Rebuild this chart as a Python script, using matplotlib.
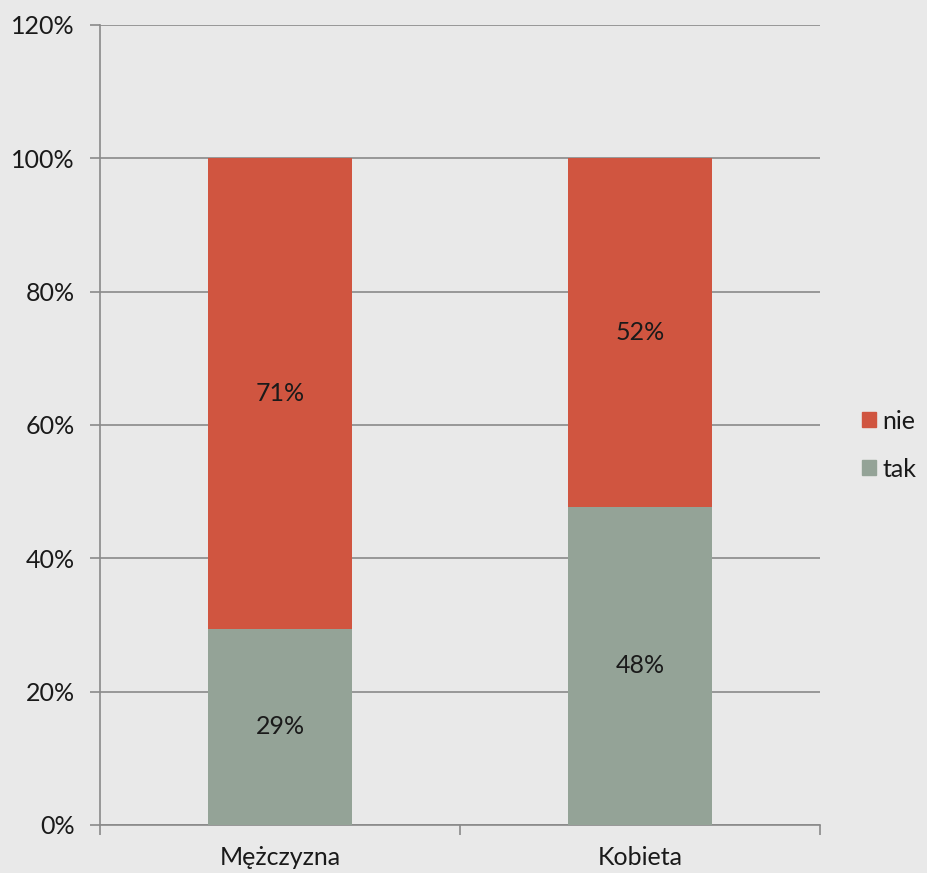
import numpy as np
import matplotlib.pyplot as plt
from matplotlib.patches import Patch

categories = ['Mężczyzna', 'Kobieta']
tak = [29.4, 47.7]
nie = [70.6, 52.3]
tak_labels = ['29%', '48%']
nie_labels = ['71%', '52%']

plt.rcParams['font.family'] = ['Lato', 'DejaVu Sans']

bg = '#e9e9e9'
red = '#d05540'
green = '#94a397'
fs = 18

fig = plt.figure(figsize=(9.28, 8.73), dpi=100, facecolor=bg)
ax = fig.add_axes([0.1078, 0.055, 0.7758, 0.9164], facecolor=bg)

x = np.arange(len(categories))
w = 0.4
b1 = ax.bar(x, tak, w, color=green, label='tak', zorder=3)
b2 = ax.bar(x, nie, w, bottom=tak, color=red, label='nie', zorder=3)

for rect, lab in zip(b1, tak_labels):
    ax.text(rect.get_x() + rect.get_width() / 2, rect.get_y() + rect.get_height() / 2,
            lab, ha='center', va='center', fontsize=fs, color='#1a1a1a', zorder=4)
for rect, lab in zip(b2, nie_labels):
    ax.text(rect.get_x() + rect.get_width() / 2, rect.get_y() + rect.get_height() / 2,
            lab, ha='center', va='center', fontsize=fs, color='#1a1a1a', zorder=4)

ax.set_xlim(-0.5, 1.5)
ax.set_ylim(0, 120)
ax.set_yticks(np.arange(0, 121, 20))
ax.set_yticklabels(['{}%'.format(v) for v in range(0, 121, 20)], fontsize=fs, color='#1a1a1a')
ax.set_xticks(x)
ax.set_xticklabels(categories, fontsize=fs, color='#1a1a1a')
ax.set_xticks([-0.5, 0.5, 1.5], minor=True)
ax.tick_params(axis='x', which='major', length=0, pad=15)
ax.tick_params(axis='x', which='minor', length=7, color='#8a8a8a', width=1.2, direction='out')
ax.tick_params(axis='y', length=7, color='#8a8a8a', width=1.2, direction='out', pad=11)
ax.grid(axis='y', color='#8a8a8a', linewidth=1.2, zorder=0)

for s in ['top', 'right']:
    ax.spines[s].set_visible(False)
for s in ['left', 'bottom']:
    ax.spines[s].set_color('#8a8a8a')
    ax.spines[s].set_linewidth(1.2)

handles = [Patch(color=red, label='nie'), Patch(color=green, label='tak')]
leg = fig.legend(handles=handles, loc='center left', bbox_to_anchor=(0.929, 0.49),
                 frameon=False, fontsize=fs, handlelength=0.55, handleheight=0.55,
                 handletextpad=0.25, labelspacing=1.0, borderaxespad=0, borderpad=0)
for t in leg.get_texts():
    t.set_color('#1a1a1a')

fig.savefig('out.png', dpi=100, facecolor=bg)
